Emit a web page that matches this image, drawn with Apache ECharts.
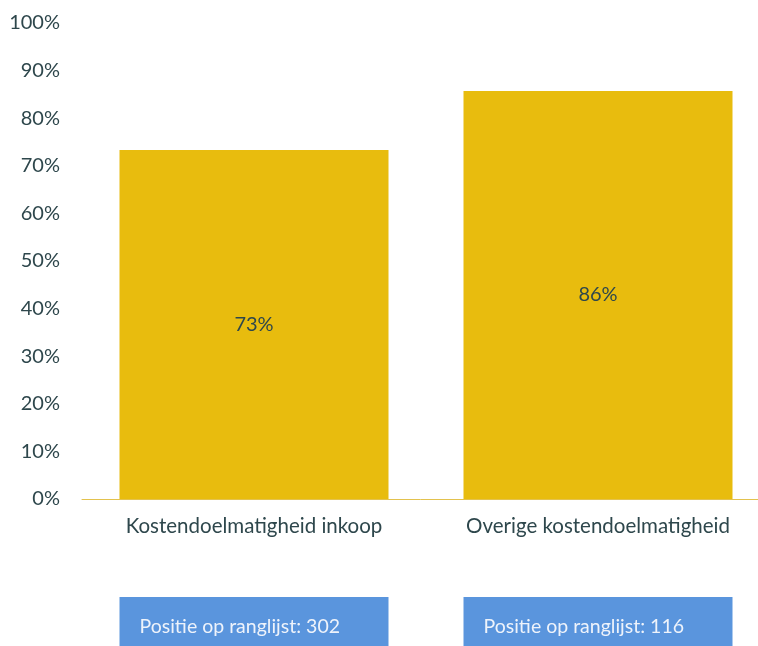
<!DOCTYPE html>
<html>
<head>
<meta charset="utf-8">
<script src="https://cdn.jsdelivr.net/npm/echarts@6/dist/echarts.min.js"></script>
<style>
  html, body { margin: 0; padding: 0; background: #fff; }
  #chart { width: 758px; height: 646px; }
</style>
</head>
<body>
<div id="chart"></div>
<script>
// categorieen en waarden (percentages)
const categories = ['Kostendoelmatigheid inkoop', 'Overige kostendoelmatigheid']
const scores = [73.3, 85.7]
const ranks = [302, 116]
const yTicks = [0, 10, 20, 30, 40, 50, 60, 70, 80, 90, 100]

const font = 'Lato, "Source Sans Pro", sans-serif'
const textColor = '#2e474c'

const myChart = echarts.init(document.getElementById('chart'))
const option = {
  animation: false,
  grid: {
    top: 23,
    height: 476,
    left: 82,
    width: 688, // loopt iets voorbij de rand, net als het origineel
    outerBoundsMode: 'none',
    containLabel: false
  },
  xAxis: [{
    type: 'category',
    data: categories,
    axisLine: { show: true, lineStyle: { color: '#e3c24e', width: 1 } },
    axisTick: { show: false },
    axisLabel: {
      margin: 17,
      fontSize: 20.5,
      fontFamily: font,
      color: textColor,
      hideOverlap: false
    }
  }, {
    // blauwe blokken met positie op ranglijst
    type: 'category',
    position: 'bottom',
    data: categories,
    axisLine: { show: false },
    axisTick: { show: false },
    axisLabel: {
      margin: 98,
      formatter: function (value, i) {
        return '{box|Positie op ranglijst: ' + ranks[i] + '}'
      },
      rich: {
        box: {
          width: 249,
          height: 60,
          padding: [0, 0, 0, 20],
          align: 'left',
          backgroundColor: '#5a95dd',
          color: '#eef3fb',
          fontSize: 19.5,
          fontFamily: font
        }
      }
    }
  }],
  yAxis: {
    type: 'value',
    min: yTicks[0],
    max: yTicks[yTicks.length - 1],
    interval: 10,
    splitLine: { show: false },
    axisLine: { show: false },
    axisTick: { show: false },
    axisLabel: {
      margin: 22,
      fontSize: 20,
      fontFamily: font,
      color: textColor,
      formatter: '{value}%'
    }
  },
  series: [{
    type: 'bar',
    data: scores,
    barWidth: 269,
    itemStyle: { color: '#e8bc0e' },
    label: {
      show: true,
      position: 'inside',
      fontSize: 20,
      fontFamily: font,
      color: textColor,
      formatter: function (p) {
        return Math.round(p.value) + '%'
      }
    }
  }]
}
myChart.setOption(option, true)
</script>
</body>
</html>
